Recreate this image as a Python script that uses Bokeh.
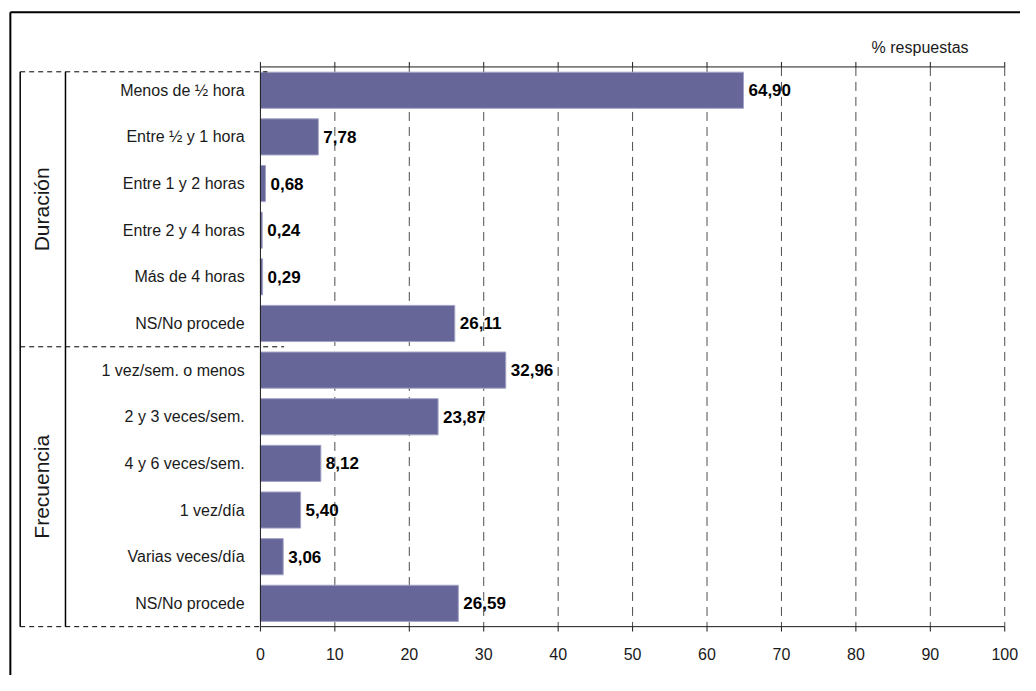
import math
from bokeh.plotting import figure
from bokeh.models import Range1d
from bokeh.core.properties import value
from bokeh.embed import file_html
from bokeh.resources import INLINE

# ---------------- data ----------------
categories = [
    "Menos de ½ hora", "Entre ½ y 1 hora", "Entre 1 y 2 horas", "Entre 2 y 4 horas",
    "Más de 4 horas", "NS/No procede",
    "1 vez/sem. o menos", "2 y 3 veces/sem.", "4 y 6 veces/sem.", "1 vez/día",
    "Varias veces/día", "NS/No procede",
]
values = [64.90, 7.78, 0.68, 0.24, 0.29, 26.11, 32.96, 23.87, 8.12, 5.40, 3.06, 26.59]
groups = ["Duración", "Frecuencia"]
group_sizes = [6, 6]
ticks = [0, 10, 20, 30, 40, 50, 60, 70, 80, 90, 100]
axis_title = "% respuestas"

# ---------------- layout helpers (reference pixels -> data) ----------------
W, H = 1020, 675
REF_W, REF_H = 1036, 691
X0_PX, PX_PER_UNIT = 264.0, 7.56
Y0_PX, PX_PER_SLOT = 68.0, 47.75


def xd(px):
    return (px - X0_PX) / PX_PER_UNIT


def yd(py):
    return (py - Y0_PX) / PX_PER_SLOT


FONT = value("Liberation Sans")
n = len(categories)

p = figure(width=W, height=H, output_backend="svg", toolbar_location=None,
           x_range=Range1d(xd(0), xd(REF_W)),
           y_range=Range1d(yd(REF_H), yd(0)),
           min_border=0, min_border_left=0, min_border_right=0,
           min_border_top=0, min_border_bottom=0)
p.xaxis.visible = False
p.yaxis.visible = False
p.grid.visible = False
p.outline_line_color = None
p.background_fill_color = "white"
p.border_fill_color = "white"

ys = [i + 0.5 for i in range(n)]

# vertical dashed gridlines
grid_ticks = [t for t in ticks if t > 0]
p.segment(x0=grid_ticks, y0=[0] * len(grid_ticks), x1=grid_ticks, y1=[n] * len(grid_ticks),
          line_color="#4d4d4d", line_width=1, line_dash="9 6")

# bars
p.hbar(y=ys, left=0, right=values, height=0.775,
       fill_color="#666699", line_color="#a3a3c6", line_width=1)

# axis lines
p.segment(x0=[0, 0, 0], y0=[0, n, 0], x1=[ticks[-1], ticks[-1], 0], y1=[0, n, n],
          line_color="#1a1a1a", line_width=1)
# tick marks top (outward = up) and bottom (outward = down)
p.segment(x0=ticks, y0=[yd(Y0_PX - 5)] * len(ticks), x1=ticks, y1=[0] * len(ticks),
          line_color="#1a1a1a", line_width=1)
p.segment(x0=ticks, y0=[n] * len(ticks), x1=ticks, y1=[yd(Y0_PX + n * PX_PER_SLOT + 5)] * len(ticks),
          line_color="#1a1a1a", line_width=1)

# tick labels (bottom)
p.text(x=ticks, y=[yd(669)] * len(ticks), text=[str(t) for t in ticks],
       text_font=FONT, text_font_size=value("16px"), text_color="#1a1a1a",
       text_align="center", text_baseline="middle")

# axis title
p.text(x=[xd(934)], y=[yd(48)], text=[axis_title],
       text_font=FONT, text_font_size=value("16px"), text_color="#1a1a1a",
       text_align="center", text_baseline="middle")

# value labels
p.text(x=values, y=ys, text=[f"{v:.2f}".replace(".", ",") for v in values],
       x_offset=5, text_font=FONT, text_font_size=value("17px"), text_font_style="bold",
       text_color="black", text_align="left", text_baseline="middle")

# category labels
p.text(x=[xd(248)] * n, y=ys, text=categories,
       text_font=FONT, text_font_size=value("16px"), text_color="#1a1a1a",
       text_align="right", text_baseline="middle")

# group brackets
top_y = yd(73)
bounds = [top_y]
acc = 0
for s in group_sizes:
    acc += s
    bounds.append(acc)
p.segment(x0=[xd(20), xd(66)], y0=[top_y, top_y], x1=[xd(20), xd(66)], y1=[n, n],
          line_color="black", line_width=1.5)
p.segment(x0=[xd(20)] * 3, y0=bounds, x1=[xd(271), xd(288), 0], y1=bounds,
          line_color="black", line_width=1, line_dash="5 4")
gy = [(bounds[i] + bounds[i + 1]) / 2 for i in range(len(groups))]
p.text(x=[xd(42)] * len(groups), y=gy, text=groups, angle=math.pi / 2,
       text_font=FONT, text_font_size=value("21px"), text_color="#1a1a1a",
       text_align="center", text_baseline="middle")

# outer border (top and left; box continues beyond the window)
p.segment(x0=[xd(10), xd(10)], y0=[yd(12), yd(12)], x1=[xd(1060), xd(10)], y1=[yd(12), yd(720)],
          line_color="black", line_width=2)

open("out.html", "w").write(file_html(p, INLINE))
